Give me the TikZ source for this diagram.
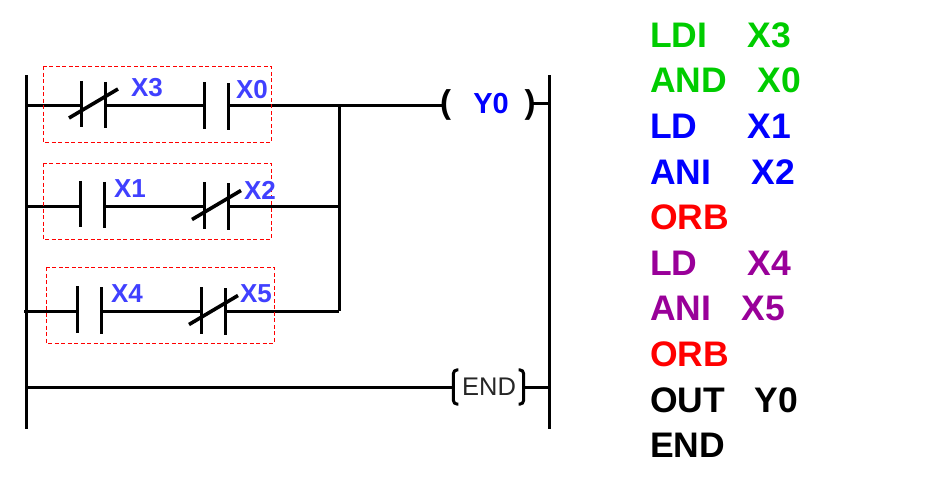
\documentclass[tikz,border=0pt]{standalone}
\usepackage{fontspec}
\setmainfont{Liberation Sans}
\usetikzlibrary{positioning,calc}
\tikzset{
	wire/.style = {
		line width=3pt,
		black
	},
	bar/.style = {
		line width=3.2pt,
		black
	},
	contact/.style = {
		rectangle,
		minimum width=23pt,
		minimum height=46pt,
		inner sep=0pt
	},
	group/.style = {
		draw=red,
		line width=0.9pt,
		dash pattern=on 4pt off 2.5pt
	},
	tag/.style = {
		font=\fontsize{26}{26}\selectfont\bfseries,
		text=tagblue,
		inner sep=0pt
	},
	instr/.style = {
		font=\fontsize{35.5}{35.5}\selectfont\bfseries,
		anchor=base west,
		inner sep=0pt
	}
}
\definecolor{tagblue}{HTML}{4040FF}
\definecolor{lgreen}{HTML}{00CC00}
\definecolor{lblue}{HTML}{0000FF}
\definecolor{lpurple}{HTML}{990099}
\begin{document}
\begin{tikzpicture}[x=1pt, y=-1pt]
		\useasboundingbox (0,0) rectangle (938,491);
		
		% --- Rails ---
		\coordinate (railLtop) at (26,75);
		\coordinate (railLbot) at (26,429);
		\coordinate (railRtop) at (549,75);
		\coordinate (railRbot) at (549,429);
		\coordinate (start1) at (26,105);
		\coordinate (start2) at (26,206);
		\coordinate (start3) at (24,311);
		\coordinate (start4) at (26,387);
		\coordinate (join1) at (339,105);
		\coordinate (join2) at (339,206);
		\coordinate (join3) at (339,311);
		
		% --- Contacts ---
		\node [contact] (cX3) at (93.5,104) {};
		\node [contact] (cX0) at (216.5,105.5) {};
		\node [contact] (cX1) at (92.5,204) {};
		\node [contact] (cX2) at (216.5,205.5) {};
		\node [contact] (cX4) at (89.5,309.5) {};
		\node [contact] (cX5) at (213.5,310.5) {};
		
		\foreach \c in {cX3,cX0,cX1,cX2,cX4,cX5} {
			\draw [bar] (\c.north west) -- (\c.south west);
			\draw [bar] ([yshift=-1pt]\c.north east) -- ([yshift=-1pt]\c.south east);
		}
		\foreach \c in {cX3,cX2,cX5} {
			\draw [bar, line width=3.6pt] ([xshift=-24.5pt,yshift=-14pt]\c.center) -- ([xshift=24.5pt,yshift=15pt]\c.center);
		}
		
		% --- Coils ---
		\node [inner sep=0pt, minimum width=84pt, minimum height=30pt] (coilY) at (488,105) {};
		\node [inner sep=0pt, minimum width=70pt, minimum height=34pt] (coilE) at (488.5,387) {};
		\node [inner sep=0pt, font=\fontsize{33}{33}\selectfont\bfseries] (parL) at (445.5,105) {(};
		\node [inner sep=0pt, font=\fontsize{33}{33}\selectfont\bfseries] (parR) at (530,105) {)};
		\node [inner sep=0pt, font=\fontsize{29}{29}\selectfont\bfseries, text=lblue] (tagY0) at (491,104) {Y0};
		\node [inner sep=0pt, font=\fontsize{25.5}{25.5}\selectfont, text=black!85] (tagEND) at (489,387) {END};
		\draw [line width=3pt, rounded corners=4pt] ([xshift=5pt]coilE.north west) -- (coilE.north west) -- (coilE.south west) -- ([xshift=5pt]coilE.south west);
		\draw [line width=3pt, rounded corners=4pt] ([xshift=-5pt]coilE.north east) -- (coilE.north east) -- (coilE.south east) -- ([xshift=-5pt]coilE.south east);
		
		% --- Wires ---
		\draw [wire] (railLtop) -- (railLbot);
		\draw [wire] (railRtop) -- (railRbot);
		\draw [wire] (start1) -- (cX3.west |- start1);
		\draw [wire] (cX3.east |- start1) -- (cX0.west |- start1);
		\draw [wire] (cX0.east |- start1) -- (coilY.west |- start1);
		\draw [wire] (coilY.east |- 0,103) -- (railRtop |- 0,103);
		\draw [wire] (start2) -- (cX1.west |- start2);
		\draw [wire] (cX1.east |- start2) -- (cX2.west |- start2);
		\draw [wire] (cX2.east |- start2) -- (join2);
		\draw [wire] (start3) -- (cX4.west |- start3);
		\draw [wire] (cX4.east |- start3) -- (cX5.west |- start3);
		\draw [wire] (cX5.east |- start3) -- (join3);
		\draw [wire] (join1) -- (join3);
		\draw [wire] (start4) -- (coilE.west);
		\draw [wire] (coilE.east) -- (railRtop |- start4);
		
		% --- Dashed groups ---
		\draw [group] (43,66) rectangle (271,142);
		\draw [group] (43,163) rectangle (271,239);
		\draw [group] (46,267) rectangle (274,343);
		
		% --- Contact labels ---
		\node [tag] (tagX3) at (147,88) {X3};
		\node [tag] (tagX0) at (252,90) {X0};
		\node [tag] (tagX1) at (130,189) {X1};
		\node [tag] (tagX2) at (260,190) {X2};
		\node [tag] (tagX4) at (127,294) {X4};
		\node [tag] (tagX5) at (256,294) {X5};
		
		% --- Instruction list ---
		\node [instr, text=lgreen] (ln1) at (650,47) {LDI};
		\node [instr, text=lgreen] (arg1) at (747.5,47) {X3};
		\node [instr, text=lgreen] (ln2) at (650,92) {AND};
		\node [instr, text=lgreen] (arg2) at (757.5,92) {X0};
		\node [instr, text=lblue] (ln3) at (650,138) {LD};
		\node [instr, text=lblue] (arg3) at (747.5,138) {X1};
		\node [instr, text=lblue] (ln4) at (650,184) {ANI};
		\node [instr, text=lblue] (arg4) at (751.5,184) {X2};
		\node [instr, text=red] (ln5) at (650,229) {ORB};
		\node [instr, text=lpurple] (ln6) at (650,275) {LD};
		\node [instr, text=lpurple] (arg6) at (747.5,275) {X4};
		\node [instr, text=lpurple] (ln7) at (650,320) {ANI};
		\node [instr, text=lpurple] (arg7) at (741.5,320) {X5};
		\node [instr, text=red] (ln8) at (650,366) {ORB};
		\node [instr, text=black] (ln9) at (650,412) {OUT};
		\node [instr, text=black] (arg9) at (754.5,412) {Y0};
		\node [instr, text=black] (ln10) at (650,457) {END};
		
	\end{tikzpicture}
\end{document}
